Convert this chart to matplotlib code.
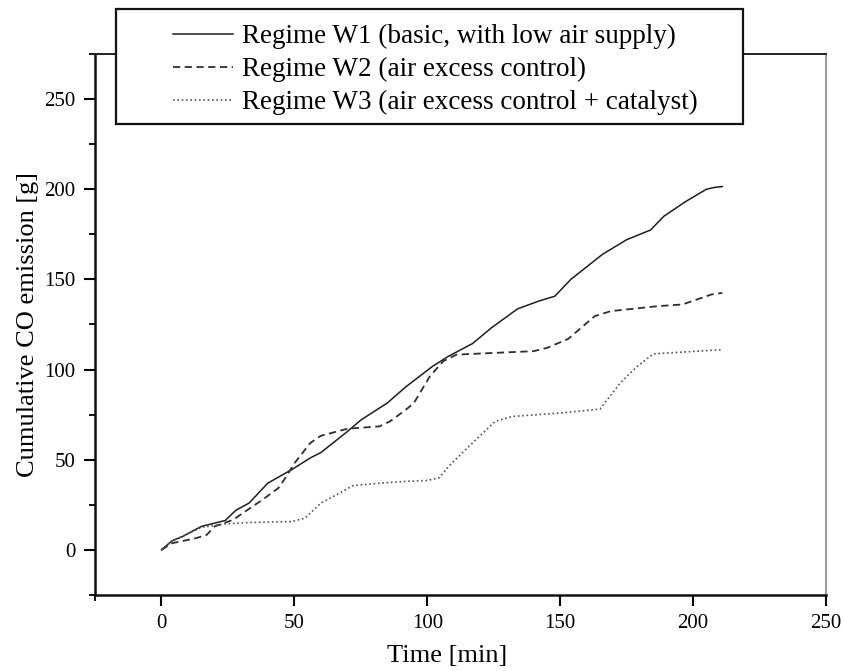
import matplotlib

matplotlib.use("Agg")
import matplotlib.pyplot as plt
from matplotlib.patches import Rectangle
from matplotlib.ticker import MultipleLocator

plt.rcParams["font.family"] = ["Liberation Serif", "DejaVu Serif"]

# cumulative CO emission
t_w1 = [0, 4, 8, 15, 24, 28, 33, 40, 49, 56, 60, 70, 75, 85, 92, 102, 108, 117,
        124, 134, 142, 148, 154, 166, 175, 184, 189, 197, 205, 208, 211]
co_w1 = [0, 5, 7.5, 13, 16.3, 22, 26, 37, 44.5, 51, 54, 65.7, 72, 81.5, 90.5,
         101.8, 107.4, 114.4, 123, 133.7, 138, 140.7, 150, 164, 172, 177.4, 185,
         193, 200, 201, 201.5]

t_w2 = [0, 4, 13, 17, 20, 27, 31.5, 38, 44, 47, 50, 56, 60, 70, 82, 86, 92, 95,
        101, 106, 111, 126, 140, 145, 153, 163, 169, 187, 196, 207, 211]
co_w2 = [0, 3.7, 6.5, 8.3, 13, 16.7, 21.3, 27.8, 34.3, 40.7, 48, 59.3, 63.3, 67.2,
         68.5, 71.3, 77.8, 81.5, 96.3, 104.6, 108.3, 109.3, 110.2, 112, 117,
         129.6, 132.4, 135.2, 136.1, 141.7, 142.5]

t_w3 = [0, 4, 8, 15, 24, 33, 49, 54, 60, 67, 72, 82, 92, 100, 104.5, 108, 117,
        125.6, 132, 150, 165, 172.6, 179, 185, 206, 211]
co_w3 = [0, 5, 7.5, 12.5, 14.4, 15.2, 15.7, 17.6, 26, 31.5, 35.6, 37, 38, 38.5,
         40, 46.3, 59.3, 71.3, 74, 75.9, 78.1, 92.6, 101.8, 108.7, 110.6, 111]

labels = [
    "Regime W1 (basic, with low air supply)",
    "Regime W2 (air excess control)",
    "Regime W3 (air excess control + catalyst)",
]

fig = plt.figure(figsize=(8.45, 6.71), dpi=100)
ax = fig.add_axes([0.1124, 0.1133, 0.8651, 0.8062])

l1, = ax.plot(t_w1, co_w1, color="#1e1e1e", lw=1.1, ls="-")
l2, = ax.plot(t_w2, co_w2, color="#2e2e2e", lw=1.3, ls=(0, (4, 2.5)))
l3, = ax.plot(t_w3, co_w3, color="#555555", lw=1.2, ls=(0, (1, 1.6)))

ax.set_xlim(-25, 250)
ax.set_ylim(-25, 275)
ax.xaxis.set_major_locator(MultipleLocator(50))
ax.xaxis.set_minor_locator(MultipleLocator(25))
ax.yaxis.set_major_locator(MultipleLocator(50))
ax.yaxis.set_minor_locator(MultipleLocator(25))
ax.tick_params(which="major", direction="out", length=8, width=1.5,
               labelsize=15, pad=6, top=False, right=False)
ax.tick_params(which="minor", direction="out", length=4.5, width=1.3,
               top=False, right=False)
ax.set_xticks([-25], minor=True)

for side in ("left", "bottom"):
    ax.spines[side].set_linewidth(1.8)
    ax.spines[side].set_color("#111111")
ax.spines["top"].set_linewidth(1.4)
ax.spines["top"].set_color("#222222")
ax.spines["right"].set_linewidth(1.2)
ax.spines["right"].set_color("#888888")

ax.set_xlabel("Time [min]", fontsize=19, labelpad=8, x=0.482)
ax.set_ylabel("Cumulative CO emission [g]", fontsize=19, labelpad=4)

# legend box sits over the top spine
box = Rectangle((116 / 845, 1 - 124 / 671), (743 - 116) / 845, (124 - 9) / 671,
                transform=fig.transFigure, facecolor="white", edgecolor="#111111",
                linewidth=1.6, zorder=5)
fig.patches.append(box)
leg = fig.legend([l1, l2, l3], labels, loc="upper left",
                 bbox_to_anchor=(173 / 845, 1 - 24 / 671), frameon=False,
                 fontsize=19.5, handlelength=2.2, handletextpad=0.33,
                 labelspacing=0.29, borderpad=0, borderaxespad=0)
leg.set_zorder(6)

fig.savefig("out.png", dpi=100)
